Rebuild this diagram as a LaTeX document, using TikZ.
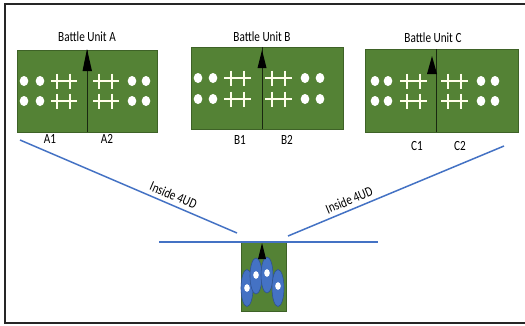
\documentclass[tikz,border=0pt]{standalone}
\usepackage{fontspec}
\usepackage{graphicx}
\newfontfamily\labelfont{Carlito}
\newcommand\narrowtext[1]{\scalebox{0.8}[1]{#1}}
\definecolor{fieldgreen}{HTML}{548235}
\definecolor{fieldedge}{HTML}{3E6227}
\definecolor{troopblue}{HTML}{4472C4}
\definecolor{troopedge}{HTML}{2F528F}
\tikzset{
  unitbox/.style={draw=fieldedge, fill=fieldgreen, line width=0.8pt, inner sep=0pt, anchor=north west},
  divider/.style={draw=black!70!fieldgreen, line width=0.7pt},
  caption/.style={font=\labelfont\fontsize{14}{16}\selectfont, inner sep=1pt},
  route/.style={draw=troopblue, line width=1.5pt},
  cross/.style={draw=white!92!yellow, line width=1.1pt},
  heading/.style={fill=black},
  dot/.style={fill=white},
  troop/.style={fill=troopblue, draw=troopedge, line width=0.6pt}
}
\begin{document}
\begin{tikzpicture}[x=1pt, y=-1pt]
\useasboundingbox (0,0) rectangle (525,325);
\fill[white] (0,0) rectangle (525,325);

% outer frame, open on the right
\draw[line width=1.6pt, black!85] (525,4) -- (5,4) -- (5,323) -- (525,323);

% ---------- Battle Unit A ----------
\node[unitbox, minimum width=140pt, minimum height=82pt] (boxA) at (17,50) {};
\draw[divider] (87,50) -- (87,132);
\foreach \cx in {24,40,132,146} \foreach \cy in {81,101}
  \fill[dot] (\cx,\cy) ellipse [x radius=4.3pt, y radius=5pt];
\foreach \px in {51,93} \foreach \cy in {81,101}
  \draw[cross] (\px,\cy) -- ++(26,0) (\px+6,\cy-7.5) -- ++(0,15) (\px+19,\cy-7.5) -- ++(0,15);
\fill[heading] (87,49) -- (92,71) -- (82.5,71) -- cycle;
\node[caption] (titleA) at (87,37) {\narrowtext{Battle Unit A}};
\node[caption] (lblA1) at (50,139) {\narrowtext{A1}};
\node[caption] (lblA2) at (107,139) {\narrowtext{A2}};

% ---------- Battle Unit B ----------
\node[unitbox, minimum width=152pt, minimum height=82pt] (boxB) at (191,47) {};
\draw[divider] (262,47) -- (262,129);
\foreach \cx in {198,213,305,320} \foreach \cy in {78,99}
  \fill[dot] (\cx,\cy) ellipse [x radius=4.3pt, y radius=5pt];
\foreach \px in {224,265} \foreach \cy in {78,99}
  \draw[cross] (\px,\cy) -- ++(27,0) (\px+7,\cy-7.5) -- ++(0,15) (\px+20,\cy-7.5) -- ++(0,15);
\fill[heading] (262,50) -- (266.5,68) -- (257.5,68) -- cycle;
\node[caption] (titleB) at (262,37) {\narrowtext{Battle Unit B}};
\node[caption] (lblB1) at (240,140) {\narrowtext{B1}};
\node[caption] (lblB2) at (287,140) {\narrowtext{B2}};

% ---------- Battle Unit C ----------
\node[unitbox, minimum width=153pt, minimum height=83pt] (boxC) at (365,49) {};
\draw[divider] (436,49) -- (436,132);
\foreach \cx in {375,388,481,495} \foreach \cy in {81,101}
  \fill[dot] (\cx,\cy) ellipse [x radius=4.3pt, y radius=5pt];
\foreach \px in {400,441} \foreach \cy in {81,101}
  \draw[cross] (\px,\cy) -- ++(27,0) (\px+7,\cy-7.5) -- ++(0,15) (\px+20,\cy-7.5) -- ++(0,15);
\fill[heading] (432,56) -- (437,74) -- (427,74) -- cycle;
\node[caption] (titleC) at (433,38) {\narrowtext{Battle Unit C}};
\node[caption] (lblC1) at (417,146) {\narrowtext{C1}};
\node[caption] (lblC2) at (460,146) {\narrowtext{C2}};

% ---------- approach routes ----------
\coordinate (routeAstart) at (20,140);
\coordinate (routeAend) at (237,233);
\coordinate (routeCstart) at (288,236);
\coordinate (routeCend) at (504,146);
\coordinate (lineL) at (159,242);
\coordinate (lineR) at (378,242);
\draw[route] (routeAstart) -- node[caption, pos=0.69, sloped, above=3pt] (insideL) {\narrowtext{Inside 4UD}} (routeAend);
\draw[route] (routeCstart) -- node[caption, pos=0.30, sloped, above=3pt] (insideR) {\narrowtext{Inside 4UD}} (routeCend);

% ---------- assembly box ----------
\node[unitbox, minimum width=45pt, minimum height=69pt] (boxD) at (241,242) {};
\draw[route] (lineL) -- (lineR);
\draw[troop] (247,288) ellipse [x radius=6pt, y radius=18.5pt];
\draw[troop] (256,276) ellipse [x radius=6pt, y radius=18pt];
\draw[troop] (267,275) ellipse [x radius=6pt, y radius=18pt];
\draw[troop] (278,288) ellipse [x radius=6pt, y radius=18.5pt];
\foreach \dx/\dy in {247/288, 256/275, 267/273, 278/286}
  \fill[dot] (\dx,\dy) ellipse [x radius=2.8pt, y radius=3.8pt];
\fill[heading] (262,243) -- (266,259) -- (258,259) -- cycle;
\end{tikzpicture}
\end{document}
